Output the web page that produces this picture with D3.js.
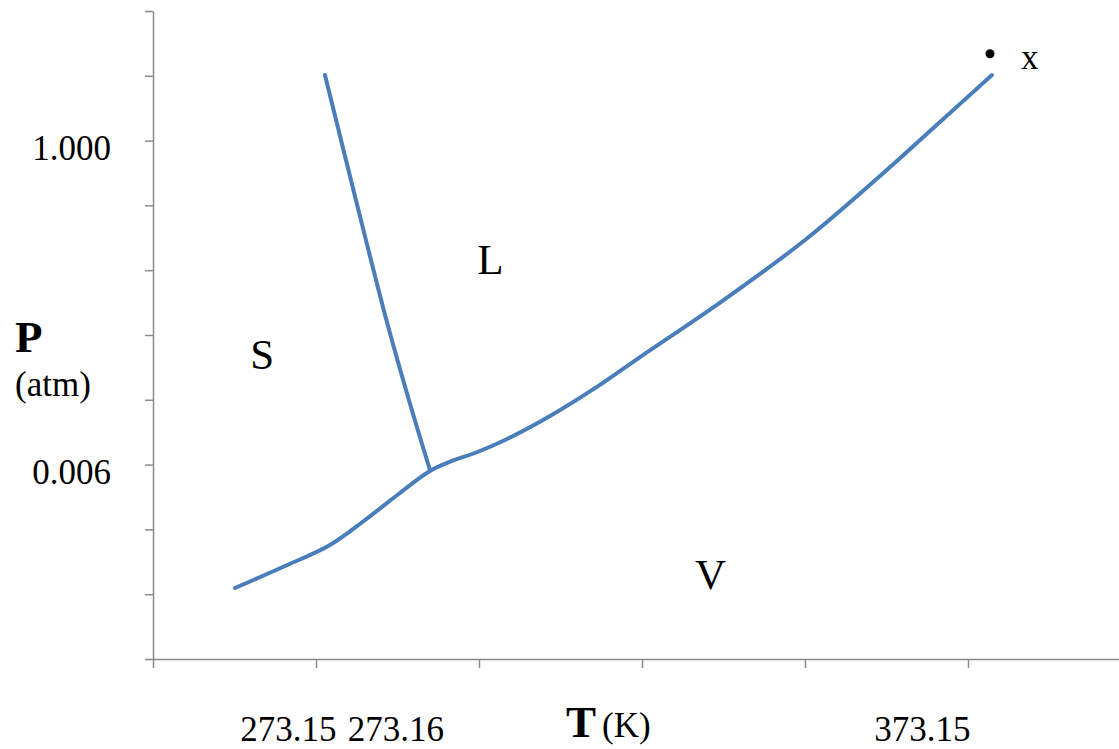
<!DOCTYPE html>
<html>
<head>
<meta charset="utf-8">
<script src="https://cdn.jsdelivr.net/npm/d3@7"></script>
<style>
  html, body { margin: 0; padding: 0; background: #fff; }
  svg { display: block; }
  text { font-family: "Liberation Serif", "Times New Roman", serif; fill: #000; }
</style>
</head>
<body>
<svg id="chart" width="1119" height="749"></svg>
<script>
// ---- data (axis units: x = tick index, y = tick index) ----
const xTickCount = [0, 1, 2, 3, 4, 5];
const yTickCount = [0, 1, 2, 3, 4, 5, 6, 7, 8, 9, 10];

const xLabels = ["273.15", "273.16", "373.15"];
const xLabelPos = [0.83, 1.49, 4.72];

const yLabels = ["1.000", "0.006"];
const yLabelPos = [8, 3];

// melting (solid–liquid) line
const meltX = [1.055, 1.245, 1.432, 1.570, 1.699];
const meltY = [9.012, 7.083, 5.231, 3.997, 2.917];

// sublimation + vaporisation line
const vapX = [0.503, 0.810, 1.086, 1.301, 1.515, 1.699, 1.834, 1.975, 2.160, 2.436, 2.730, 2.988, 3.479, 4.000, 4.460, 4.828, 5.147];
const vapY = [1.096, 1.435, 1.759, 2.145, 2.562, 2.901, 3.056, 3.179, 3.380, 3.750, 4.210, 4.660, 5.500, 6.466, 7.454, 8.287, 9.012];

// extra point and region labels
const pointX = [5.135], pointY = [9.34];
const regionNames = ["S", "L", "V"];
const regionX = [0.67, 2.07, 3.42];
const regionY = [4.475, 5.94, 1.08];
const pointLabel = "x";

// ---- drawing ----
const svg = d3.select("#chart");
const x = d3.scaleLinear().domain([0, 5.94]).range([153, 153 + 5.94 * 163]);
const y = d3.scaleLinear().domain([0, 10]).range([659, 11]);

const axisColor = "#8a8a8a";

const gx = svg.append("g").attr("transform", `translate(0,${y(0)})`)
  .call(d3.axisBottom(x).tickValues(xTickCount).tickSize(9).tickSizeOuter(0).tickFormat(""));
const gy = svg.append("g").attr("transform", `translate(${x(0)},0)`)
  .call(d3.axisLeft(y).tickValues(yTickCount).tickSize(8).tickSizeOuter(0).tickFormat(""));
[gx, gy].forEach(g => {
  g.selectAll("path.domain").attr("stroke", axisColor).attr("stroke-width", 1.5);
  g.selectAll(".tick line").attr("stroke", axisColor).attr("stroke-width", 1.5);
});

// tick labels
svg.selectAll("text.xl").data(xLabels).join("text")
  .attr("class", "xl")
  .attr("x", (d, i) => x(xLabelPos[i]))
  .attr("y", y(0) + 82)
  .attr("text-anchor", "middle")
  .attr("font-size", 35)
  .text(d => d);

svg.selectAll("text.yl").data(yLabels).join("text")
  .attr("class", "yl")
  .attr("x", x(0) - 42)
  .attr("y", (d, i) => y(yLabelPos[i]) + 19)
  .attr("text-anchor", "end")
  .attr("font-size", 35)
  .text(d => d);

// axis titles
const tTitle = svg.append("text").attr("x", 566).attr("y", 737);
tTitle.append("tspan").attr("font-size", 45).attr("font-weight", "bold").text("T");
tTitle.append("tspan").attr("font-size", 35).attr("dx", 6).text("(K)");

svg.append("text").attr("x", 15).attr("y", 352)
  .attr("font-size", 45).attr("font-weight", "bold").text("P");
svg.append("text").attr("x", 15).attr("y", 396)
  .attr("font-size", 35).text("(atm)");

// curves
const lineColor = "#4a7ebb";
const meltData = meltX.map((v, i) => [v, meltY[i]]);
const vapData = vapX.map((v, i) => [v, vapY[i]]);

svg.append("path").datum(vapData)
  .attr("d", d3.line().x(d => x(d[0])).y(d => y(d[1])).curve(d3.curveCatmullRom.alpha(0.5)))
  .attr("fill", "none").attr("stroke", lineColor).attr("stroke-width", 4).attr("stroke-linecap", "round");
svg.append("path").datum(meltData)
  .attr("d", d3.line().x(d => x(d[0])).y(d => y(d[1])).curve(d3.curveCatmullRom.alpha(0.5)))
  .attr("fill", "none").attr("stroke", lineColor).attr("stroke-width", 4).attr("stroke-linecap", "round");

// point
svg.selectAll("circle.pt").data(pointX).join("circle")
  .attr("class", "pt")
  .attr("cx", d => x(d)).attr("cy", (d, i) => y(pointY[i])).attr("r", 4.5).attr("fill", "#000");
svg.append("text").attr("x", x(pointX[0]) + 31).attr("y", y(pointY[0]) + 15)
  .attr("font-size", 35).text(pointLabel);

// region labels
svg.selectAll("text.region").data(regionNames).join("text")
  .attr("class", "region")
  .attr("x", (d, i) => x(regionX[i]))
  .attr("y", (d, i) => y(regionY[i]))
  .attr("text-anchor", "middle")
  .attr("font-size", 43)
  .text(d => d);
</script>
</body>
</html>
